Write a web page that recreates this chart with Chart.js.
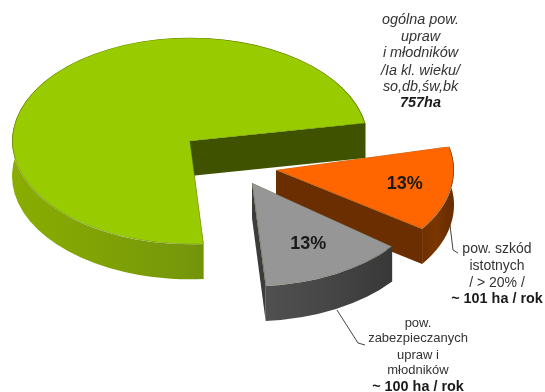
<!DOCTYPE html>
<html><head><meta charset="utf-8">
<style>html,body{margin:0;padding:0;background:#fff}canvas{display:block}</style>
<script src="https://cdn.jsdelivr.net/npm/chart.js@4/dist/chart.umd.min.js"></script>
</head><body><canvas id="c" width="545" height="392"></canvas>
<script>
const categories = ["pozostała pow.", "pow. szkód istotnych", "pow. zabezpieczanych upraw i młodników"];
const hectares = [556, 101, 100];
const topColors = ["#99cc00", "#ff6600", "#969696"];

const TILT = 0.58, DEPTH = 35;
const looks = [
  {cx:190, cy:141, spin:0,    wall:["#8aad00","#76970a","#4f6600"], cut:"#3f5200", label:null},
  {cx:276, cy:170, spin:-3.2, wall:["#6e3000","#7a3600","#6a2e00"], cut:"#6a2e00", label:131},
  {cx:252, cy:183, spin:0,    wall:["#505050","#464646","#383838"], cut:"#3c3c3c", label:119}
];
const notes = [
  {x:420.5, y:[20,37,53,71,87,103], lines:["ogólna pow.","upraw","i młodników","/Ia kl. wieku/","so,db,św,bk","757ha"], style:"italic", size:14.4, boldSize:14.4, color:"#333"},
  {x:497, y:[249,266,283,299], lines:["pow. szkód","istotnych","/ > 20% /","~ 101 ha / rok"], style:"", size:14, boldSize:14.4, color:"#333"},
  {x:418, y:[323,338,355,370,387], lines:["pow.","zabezpieczanych","upraw i","młodników","~ 100 ha / rok"], style:"", size:13, boldSize:14.4, color:"#333"}
];
const leaders = [
  [[450,225],[453,250],[458,253]],
  [[337,310],[358,343],[365,345]]
];

const pie3d = {
  id:"pie3d",
  beforeDatasetDraw(chart, args){
    const ctx = chart.ctx;
    args.meta.data.forEach((arc,i)=>{
      const L = looks[i];
      const p = arc.getProps(["x","y","startAngle","endAngle","outerRadius"]);
      const spin = L.spin*Math.PI/180;
      const a0 = p.startAngle+spin, a1 = p.endAngle+spin, r = p.outerRadius;
      const ry = r*TILT;
      const g = ctx.createLinearGradient(L.cx+r*Math.min(Math.cos(a0),Math.cos(a1),i===0?-1:1), 0, L.cx+r*Math.max(Math.cos(a0),Math.cos(a1),i===0?0.08:0), 0);
      L.wall.forEach((c,k)=>g.addColorStop(k/(L.wall.length-1),c));
      ctx.save();
      ctx.fillStyle = g;
      ctx.beginPath();
      ctx.ellipse(L.cx,L.cy,r,ry,0,a0,a1);
      ctx.ellipse(L.cx,L.cy+DEPTH,r,ry,0,a1,a0,true);
      ctx.closePath();
      ctx.fill();
      // only the clockwise-end cut face can be seen from this viewpoint
      ctx.fillStyle = L.cut;
      const x = L.cx+r*Math.cos(a1), y = L.cy+ry*Math.sin(a1);
      ctx.beginPath();
      ctx.moveTo(L.cx,L.cy); ctx.lineTo(x,y); ctx.lineTo(x,y+DEPTH); ctx.lineTo(L.cx,L.cy+DEPTH);
      ctx.closePath(); ctx.fill();
      ctx.restore();
      ctx.save();
      ctx.translate(L.cx,L.cy);
      ctx.scale(1,TILT);
      ctx.rotate(spin);
      ctx.translate(-p.x,-p.y);
      arc.draw(ctx);
      ctx.restore();
    });
    return false;
  },
  afterDraw(chart){
    const ctx = chart.ctx, meta = chart.getDatasetMeta(0);
    const total = hectares.reduce((a,b)=>a+b,0);
    ctx.save();
    ctx.textAlign = "center"; ctx.textBaseline = "middle";
    meta.data.forEach((arc,i)=>{
      const L = looks[i];
      if(!L.label) return;
      const p = arc.getProps(["startAngle","endAngle"]);
      const m = (p.startAngle+p.endAngle)/2 + L.spin*Math.PI/180;
      ctx.fillStyle = "#1a1a1a";
      ctx.font = "bold 18px 'Liberation Sans'";
      ctx.fillText(Math.round(hectares[i]/total*100)+"%", L.cx+L.label*Math.cos(m), L.cy+L.label*TILT*Math.sin(m));
    });
    notes.forEach(n=>n.lines.forEach((t,k)=>{
      const bold = k===n.lines.length-1;
      ctx.font = `${n.style} ${bold?"bold":""} ${bold?n.boldSize:n.size}px 'Liberation Sans'`;
      ctx.fillStyle = bold?"#1a1a1a":n.color;
      ctx.fillText(t,n.x,n.y[k]);
    }));
    ctx.strokeStyle = "#444"; ctx.lineWidth = 1;
    leaders.forEach(l=>{
      ctx.beginPath();
      l.forEach((q,k)=>k?ctx.lineTo(q[0],q[1]):ctx.moveTo(q[0],q[1]));
      ctx.stroke();
    });
    ctx.restore();
  }
};

new Chart(document.getElementById("c"),{
  type:"pie",
  data:{labels:categories,datasets:[{data:hectares,backgroundColor:topColors,borderColor:"rgba(60,70,20,0.4)",borderWidth:0.6,borderAlign:"inner"}]},
  options:{
    responsive:false,animation:false,events:[],
    rotation:175.6,
    layout:{padding:{left:12,right:177,top:18,bottom:18}},
    plugins:{legend:{display:false},tooltip:{enabled:false},title:{display:false}}
  },
  plugins:[pie3d]
});
</script></body></html>
